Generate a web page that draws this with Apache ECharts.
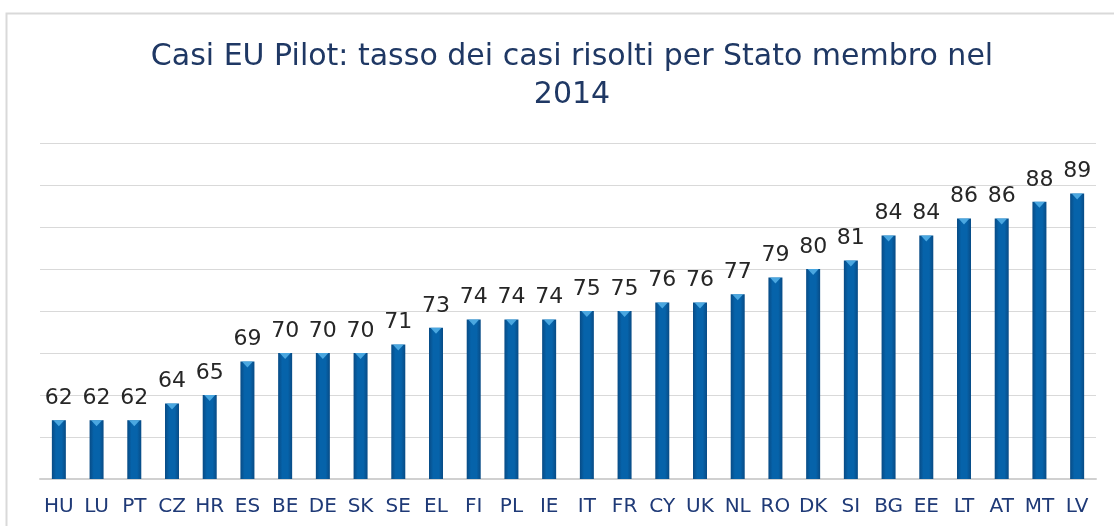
<!DOCTYPE html>
<html><head><meta charset="utf-8">
<script src="https://cdn.jsdelivr.net/npm/echarts@6/dist/echarts.min.js"></script>
<style>html,body{margin:0;padding:0;background:#fff}#c{width:1114px;height:526px}</style>
</head><body><div id="c"></div>
<script>
const categories = ["HU","LU","PT","CZ","HR","ES","BE","DE","SK","SE","EL","FI","PL","IE","IT","FR","CY","UK","NL","RO","DK","SI","BG","EE","LT","AT","MT","LV"];
const values = [62,62,62,64,65,69,70,70,70,71,73,74,74,74,75,75,76,76,77,79,80,81,84,84,86,86,88,89];
const titleText = "Casi EU Pilot: tasso dei casi risolti per Stato membro nel\n2014";

const chart = echarts.init(document.getElementById('c'));
chart.setOption({
  animation: false,
  backgroundColor: '#fff',
  graphic: [{type:'rect', shape:{x:6.5,y:13.5,width:1200,height:600}, style:{fill:'none', stroke:'#d9d9d9', lineWidth:2}, z:-1}],
  title: {text: titleText, left: 567, textAlign: 'center', top: 33,
    textStyle:{fontFamily:'DejaVu Sans', fontSize:30, fontWeight:'normal', color:'#1F3864', lineHeight:38}},
  grid: {left:40, right:18, top:143, bottom:47},
  xAxis: {type:'category', data: categories,
    axisLine:{lineStyle:{color:'#d0d0d0', width:2}}, axisTick:{show:false},
    axisLabel:{fontFamily:'DejaVu Sans', fontSize:20, color:'#1F3A77', margin:18, interval:0}},
  yAxis: {type:'value', min:55, max:95, interval:5,
    axisLabel:{show:false}, axisLine:{show:false}, axisTick:{show:false},
    splitLine:{lineStyle:{color:'#d9d9d9', width:1}}},
  series: [{
    type:'bar', data: values, barWidth:14,
    itemStyle:{color:{type:'linear',x:0,y:0,x2:1,y2:0,colorStops:[
      {offset:0,color:'#084B85'},{offset:0.3,color:'#0663AA'},{offset:0.7,color:'#0663AA'},{offset:1,color:'#084B85'}]}},
    label:{show:true, position:'top', distance:11, fontFamily:'DejaVu Sans', fontSize:22, color:'#262626'}
  },{
    type:'scatter', data: values, symbol:'triangle', symbolRotate:180, symbolSize:[11,6],
    symbolOffset:[0,3], itemStyle:{color:'#5BB8EE'}, z:3, silent:true
  }]
});
</script></body></html>
